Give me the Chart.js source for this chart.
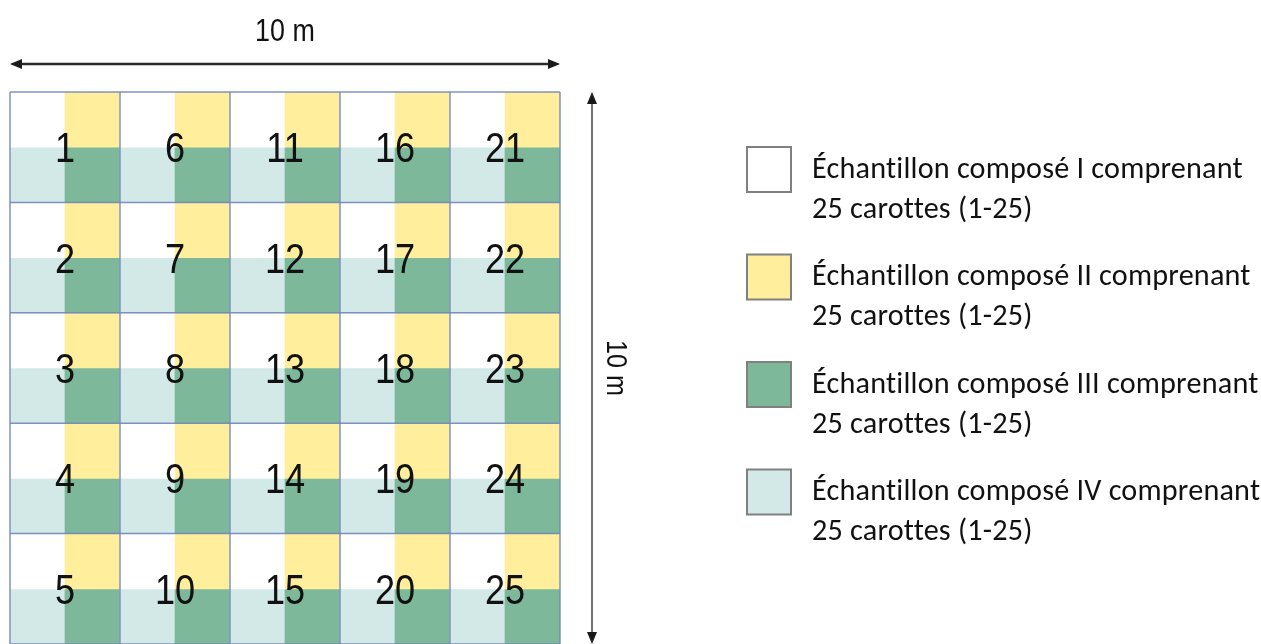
<!DOCTYPE html>
<html>
<head>
<meta charset="utf-8">
<script src="https://cdn.jsdelivr.net/npm/chart.js@4.4.0/dist/chart.umd.min.js"></script>
<style>
body { margin: 0; background: #fff; }
canvas { display: block; }
</style>
</head>
<body>
<canvas id="myChart" width="1261" height="644"></canvas>
<script>
// plot is 10 m x 10 m, drawn as 1 m strips (each numbered cell = 2 m x 2 m)
var fieldSize = 10;
var stripCentres = [0.5, 1.5, 2.5, 3.5, 4.5, 5.5, 6.5, 7.5, 8.5, 9.5];
var stripHeights = [1, 1, 1, 1, 1, 1, 1, 1, 1, 1];
// cell numbers, one list per column (left to right), top to bottom
var cellNumbers = [
    [1, 2, 3, 4, 5],
    [6, 7, 8, 9, 10],
    [11, 12, 13, 14, 15],
    [16, 17, 18, 19, 20],
    [21, 22, 23, 24, 25]
];
var sampleNames = [
    'Échantillon composé I comprenant',
    'Échantillon composé II comprenant',
    'Échantillon composé III comprenant',
    'Échantillon composé IV comprenant'
];
var sampleNote = '25 carottes (1-25)';
var sampleColors = ['#ffffff', '#ffee9c', '#7db89b', '#d2e9e8'];
// sample in each corner of a cell: [top-left, top-right], [bottom-left, bottom-right]
var cornerSamples = [[0, 1], [3, 2]];
var lengthLabel = '10 m';

function buildDatasets() {
    var sets = [];
    for (var r = 0; r < stripHeights.length; r++) {
        var pts = [];
        var cols = [];
        for (var i = 0; i < stripCentres.length; i++) {
            pts.push({x: stripCentres[i], y: stripHeights[r]});
            cols.push(sampleColors[cornerSamples[r % 2][i % 2]]);
        }
        sets.push({
            data: pts,
            backgroundColor: cols,
            borderWidth: 0,
            barPercentage: 1,
            categoryPercentage: 1
        });
    }
    return sets;
}

function arrowHead(ctx, x, y, dx, dy) {
    // filled triangle pointing along (dx, dy)
    var len = 12, half = 5;
    ctx.beginPath();
    ctx.moveTo(x, y);
    ctx.lineTo(x - dx * len - dy * half, y - dy * len + dx * half);
    ctx.lineTo(x - dx * len + dy * half, y - dy * len - dx * half);
    ctx.closePath();
    ctx.fill();
}

var fieldDrawing = {
    id: 'fieldDrawing',
    afterDatasetsDraw: function(chart) {
        var ctx = chart.ctx;
        var xs = chart.scales.x;
        var ys = chart.scales.y;
        var area = chart.chartArea;
        ctx.save();

        // cell borders every 2 m
        ctx.strokeStyle = 'rgba(115, 135, 185, 0.9)';
        ctx.lineWidth = 1.5;
        for (var k = 0; k <= fieldSize; k += 2) {
            var px = xs.getPixelForValue(k);
            var py = ys.getPixelForValue(k);
            ctx.beginPath();
            ctx.moveTo(px, area.top);
            ctx.lineTo(px, area.bottom);
            ctx.stroke();
            ctx.beginPath();
            ctx.moveTo(area.left, py);
            ctx.lineTo(area.right, py);
            ctx.stroke();
        }

        // cell numbers, centred on the corner where the four samples meet
        var numSize = 42;
        ctx.fillStyle = '#111';
        ctx.font = numSize + 'px "Liberation Sans", Arial, sans-serif';
        ctx.textAlign = 'center';
        ctx.textBaseline = 'alphabetic';
        for (var c = 0; c < cellNumbers.length; c++) {
            for (var r = 0; r < cellNumbers[c].length; r++) {
                var cx = xs.getPixelForValue(2 * c + 1);
                var cy = ys.getPixelForValue(2 * r + 1);
                ctx.save();
                ctx.translate(cx, cy + numSize * 0.358);
                ctx.scale(0.86, 1);
                ctx.fillText(String(cellNumbers[c][r]), 0, 0);
                ctx.restore();
            }
        }

        // dimension arrows
        ctx.strokeStyle = '#2a2a2a';
        ctx.fillStyle = '#1a1a1a';
        ctx.lineWidth = 2.5;
        var topY = 64;
        ctx.beginPath();
        ctx.moveTo(area.left + 4, topY);
        ctx.lineTo(area.right - 4, topY);
        ctx.stroke();
        arrowHead(ctx, area.left, topY, -1, 0);
        arrowHead(ctx, area.right, topY, 1, 0);

        var sideX = area.right + 32;
        ctx.lineWidth = 1.5;
        ctx.strokeStyle = '#444';
        ctx.beginPath();
        ctx.moveTo(sideX, area.top + 4);
        ctx.lineTo(sideX, area.bottom - 4);
        ctx.stroke();
        arrowHead(ctx, sideX, area.top, 0, -1);
        arrowHead(ctx, sideX, area.bottom, 0, 1);

        ctx.fillStyle = '#111';
        ctx.font = '32px "Liberation Sans", Arial, sans-serif';
        ctx.textAlign = 'center';
        ctx.textBaseline = 'middle';
        ctx.save();
        ctx.translate((area.left + area.right) / 2, 32);
        ctx.scale(0.84, 1);
        ctx.fillText(lengthLabel, 0, 0);
        ctx.restore();

        ctx.save();
        ctx.translate(sideX + 23, (area.top + area.bottom) / 2);
        ctx.rotate(Math.PI / 2);
        ctx.scale(0.84, 1);
        ctx.font = '30px "Liberation Sans", Arial, sans-serif';
        ctx.fillText(lengthLabel, 0, 0);
        ctx.restore();

        // legend
        var legFont = 'Carlito, Lato, "Open Sans", sans-serif';
        ctx.letterSpacing = '0.2px';
        ctx.font = '100px ' + legFont;
        var fitSize = 100 * 426 / ctx.measureText(sampleNames[0]).width;
        ctx.font = fitSize.toFixed(1) + 'px ' + legFont;
        ctx.textAlign = 'left';
        ctx.textBaseline = 'middle';
        for (var s = 0; s < sampleNames.length; s++) {
            var ly = 170 + s * 107.5;
            ctx.fillStyle = sampleColors[s];
            ctx.fillRect(747, ly - 23, 44, 45);
            ctx.strokeStyle = '#808080';
            ctx.lineWidth = 2;
            ctx.strokeRect(747, ly - 23, 44, 45);
            ctx.fillStyle = '#111';
            ctx.fillText(sampleNames[s], 812, ly);
            ctx.fillText(sampleNote, 812, ly + 40);
        }
        ctx.restore();
    }
};

document.addEventListener('DOMContentLoaded', function() {
    var ctx = document.getElementById('myChart').getContext('2d');
    var myChart = new Chart(ctx, {
        type: 'bar',
        data: { datasets: buildDatasets() },
        options: {
            responsive: false,
            animation: false,
            devicePixelRatio: 1,
            layout: { padding: { left: 10, top: 92, right: 701, bottom: -4 } },
            plugins: { legend: { display: false }, tooltip: { enabled: false } },
            scales: {
                x: { type: 'linear', min: 0, max: fieldSize, stacked: true, offset: false, display: false, grid: { offset: false } },
                y: { type: 'linear', min: 0, max: fieldSize, stacked: true, reverse: true, display: false }
            }
        },
        plugins: [fieldDrawing]
    });
});
</script>
</body>
</html>
